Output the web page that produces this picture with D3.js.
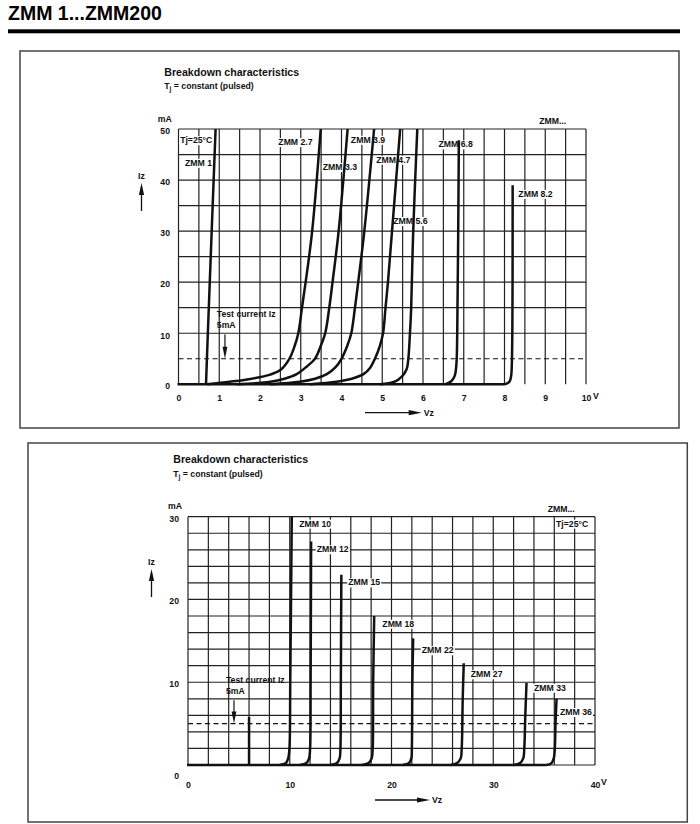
<!DOCTYPE html>
<html>
<head>
<meta charset="utf-8">
<script src="https://cdn.jsdelivr.net/npm/d3@7"></script>
<style>
  html, body { margin: 0; padding: 0; background: #fff; }
  svg { display: block; font-family: "Liberation Sans", Arial, sans-serif; font-weight: bold; }
</style>
</head>
<body>
<svg id="chart" width="700" height="824"></svg>
<script>
// ---------- DATA ----------
const pageTitle = "ZMM 1...ZMM200";
const chartTitle = "Breakdown characteristics";
const testCurrent = 5; // mA

// top chart (0..10 V, 0..50 mA)
const topVoltTicks = [0, 1, 2, 3, 4, 5, 6, 7, 8, 9, 10];
const topCurrentTicks = [0, 10, 20, 30, 40, 50];
const topNames = ["ZMM 1", "ZMM 2.7", "ZMM 3.3", "ZMM 3.9", "ZMM 4.7", "ZMM 5.6", "ZMM 6.8", "ZMM 8.2"];
const zmm1   = [[0.675, 0], [0.72, 10], [0.91, 50]];
const zmm2_7 = [[0.70, 0], [1.26, 0.5], [1.80, 1.1], [2.25, 1.9], [2.50, 2.8], [2.72, 5], [2.85, 7.5], [2.94, 10], [3.03, 15], [3.12, 20], [3.28, 30], [3.49, 50]];
const zmm3_3 = [[1.43, 0], [2.25, 0.5], [2.60, 1.1], [2.90, 2], [3.15, 3.5], [3.35, 5], [3.49, 7.5], [3.60, 10], [3.70, 15], [3.78, 20], [3.93, 30], [4.15, 50]];
const zmm3_9 = [[2.25, 0], [2.98, 0.5], [3.35, 1.1], [3.64, 2], [3.85, 3.3], [4.00, 5], [4.14, 7.5], [4.24, 10], [4.33, 15], [4.41, 20], [4.56, 30], [4.80, 50]];
const zmm4_7 = [[3.23, 0], [3.88, 0.5], [4.25, 1.1], [4.54, 2], [4.70, 3.2], [4.82, 5], [4.94, 7.5], [5.02, 10], [5.08, 15], [5.14, 20], [5.24, 30], [5.44, 50]];
const zmm5_6 = [[4.94, 0], [5.30, 0.5], [5.48, 1.5], [5.60, 3], [5.64, 5], [5.68, 10], [5.71, 15], [5.76, 30], [5.86, 50]];
const zmm6_8 = [[6.54, 0], [6.70, 0.65], [6.78, 1.7], [6.82, 4], [6.84, 10], [6.88, 47.8]];
const zmm8_2 = [[8.01, 0], [8.12, 0.5], [8.16, 1.5], [8.18, 4], [8.20, 39]];
const topCurves = [zmm1, zmm2_7, zmm3_3, zmm3_9, zmm4_7, zmm5_6, zmm6_8, zmm8_2];

// bottom chart (0..40 V, 0..30 mA)
const botVoltTicks = [0, 10, 20, 30, 40];
const botCurrentTicks = [0, 10, 20, 30];
const botNames = ["", "ZMM 10", "ZMM 12", "ZMM 15", "ZMM 18", "ZMM 22", "ZMM 27", "ZMM 33", "ZMM 36"];
const zmm6b  = [[6.0, 0], [6.0, 5.8]];
const zmm10  = [[9.0, 0], [9.6, 0.2], [9.85, 0.8], [9.97, 2], [10.05, 10], [10.2, 30]];
const zmm12  = [[11.0, 0], [11.6, 0.2], [11.9, 0.8], [12.0, 2], [12.05, 10], [12.1, 27]];
const zmm15  = [[14.0, 0], [14.6, 0.2], [14.9, 0.8], [14.98, 2], [15.02, 10], [15.07, 23]];
const zmm18  = [[17.1, 0], [17.7, 0.2], [18.05, 0.8], [18.15, 2], [18.2, 10], [18.3, 18]];
const zmm22  = [[21.1, 0], [21.7, 0.2], [21.95, 0.8], [22.0, 2], [22.05, 10], [22.13, 15.3]];
const zmm27  = [[25.8, 0], [26.4, 0.2], [26.8, 0.8], [26.9, 2], [27.0, 8], [27.1, 12.3]];
const zmm33  = [[32.0, 0], [32.6, 0.2], [32.95, 0.8], [33.05, 2], [33.15, 6], [33.27, 9.9]];
const zmm36  = [[35.2, 0], [35.7, 0.2], [35.95, 0.8], [36.05, 2], [36.12, 5], [36.22, 8]];
const botCurves = [zmm6b, zmm10, zmm12, zmm15, zmm18, zmm22, zmm27, zmm33, zmm36];

// ---------- LAYOUT (positions, in data units of each chart) ----------
const topLabelPos = {
  "Tj=25°C": [0.04, 47.2], "ZMM 1": [0.16, 42.8], "ZMM 2.7": [2.45, 46.85], "ZMM 3.9": [4.23, 47.3],
  "ZMM 3.3": [3.54, 41.97], "ZMM 4.7": [4.85, 43.4], "ZMM 5.6": [5.27, 31.4], "ZMM 6.8": [6.38, 46.4],
  "ZMM 8.2": [8.34, 36.7], "ZMM...": [8.85, 51.0]
};
const botLabelPos = {
  "ZMM 10": [10.94, 28.8], "ZMM 12": [12.65, 25.7], "ZMM 15": [15.75, 21.7], "ZMM 18": [19.1, 16.7],
  "ZMM 22": [22.97, 13.5], "ZMM 27": [27.78, 10.6], "ZMM 33": [34.0, 8.97], "ZMM 36": [36.56, 6.04],
  "ZMM...": [35.35, 30.6], "Tj=25°C": [36.17, 28.8]
};

const svg = d3.select("#chart");
const INK = "#111";

// page header
svg.append("text").attr("x", 8).attr("y", 19.5).attr("font-size", 19.5).attr("fill", "#000").text(pageTitle);
svg.append("rect").attr("x", 8).attr("y", 29.3).attr("width", 672).attr("height", 4).attr("fill", "#000");

function arrowHead(g, x, y, dir, len, half) {
  let p;
  if (dir === "down") p = [[x - half, y - len], [x + half, y - len], [x, y]];
  else if (dir === "up") p = [[x - half, y + len], [x + half, y + len], [x, y]];
  else p = [[x - len, y - half], [x - len, y + half], [x, y]];
  g.append("path").attr("d", d3.line()(p) + "Z").attr("fill", INK);
}

function labelWithBg(g, x, y, txt, size) {
  const t = g.append("text").attr("x", x).attr("y", y).attr("font-size", size).attr("fill", INK).text(txt);
  const bb = t.node().getBBox();
  g.insert("rect", "text").attr("x", bb.x - 1).attr("y", bb.y + 1).attr("width", bb.width + 2).attr("height", bb.height - 1).attr("fill", "#fff");
  return t;
}

function tjLine(g, x, y, size) {
  const t = g.append("text").attr("x", x).attr("y", y).attr("font-size", size).attr("fill", INK);
  t.append("tspan").text("T");
  t.append("tspan").attr("font-size", size * 0.75).attr("dy", 2).text("j");
  t.append("tspan").attr("dy", -2).text(" = constant (pulsed)");
}

function drawChart(cfg) {
  const g = svg.append("g");
  const { x, y } = cfg;
  g.append("rect").attr("x", cfg.box[0]).attr("y", cfg.box[1]).attr("width", cfg.box[2]).attr("height", cfg.box[3])
    .attr("fill", "none").attr("stroke", "#444").attr("stroke-width", 1.5);
  g.append("text").attr("x", cfg.titlePos[0]).attr("y", cfg.titlePos[1]).attr("font-size", 10.6).attr("fill", INK).text(chartTitle);
  tjLine(g, cfg.titlePos[0], cfg.titlePos[1] + 13.5, 8.7);

  const [x0, x1] = x.domain(), [y0, y1] = y.domain();
  const grid = g.append("g").attr("stroke", "#222").attr("stroke-width", 1.2);
  grid.selectAll("line.v").data(cfg.gridV).join("line")
    .attr("x1", d => x(d)).attr("x2", d => x(d)).attr("y1", y(y0)).attr("y2", y(y1));
  grid.selectAll("line.h").data(cfg.gridH).join("line")
    .attr("x1", x(x0)).attr("x2", x(x1)).attr("y1", d => y(d)).attr("y2", d => y(d));
  g.append("line").attr("x1", x(x0)).attr("x2", x(x1)).attr("y1", y(testCurrent)).attr("y2", y(testCurrent))
    .attr("stroke", INK).attr("stroke-width", 1.2).attr("stroke-dasharray", "5,3.5");
  const lastKnee = d3.max(cfg.curves, c => c[0][0]);
  g.append("line").attr("x1", x(x0) - 1).attr("x2", x(lastKnee)).attr("y1", y(0)).attr("y2", y(0))
    .attr("stroke", INK).attr("stroke-width", 2.6);

  const xa = d3.axisBottom(x).tickValues(cfg.xTicks).tickSize(0).tickPadding(cfg.xPad).tickFormat(d3.format("d"));
  const xg = g.append("g").attr("transform", `translate(0,${y(0)})`).call(xa);
  xg.select(".domain").remove();
  xg.selectAll("text").attr("font-size", 8.7).attr("font-family", "Liberation Sans, Arial").attr("font-weight", "bold").attr("fill", INK);
  const ya = d3.axisLeft(y).tickValues(cfg.yTicks).tickSize(0).tickPadding(cfg.yPad).tickFormat(d3.format("d"));
  const yg = g.append("g").attr("transform", `translate(${x(x0)},0)`).call(ya);
  yg.select(".domain").remove();
  yg.selectAll("text").attr("font-size", 8.7).attr("font-family", "Liberation Sans, Arial").attr("font-weight", "bold").attr("fill", INK)
    .attr("dy", d => (d === 0 ? cfg.zeroDy : cfg.tickDy));

  g.append("text").attr("x", x(x0) + cfg.mAOff[0]).attr("y", y(y1) + cfg.mAOff[1]).attr("font-size", 8.7).attr("fill", INK).text("mA");
  g.append("text").attr("x", x(x1) + cfg.vOff[0]).attr("y", y(0) + cfg.vOff[1]).attr("font-size", 8.7).attr("fill", INK).text("V");

  const iz = cfg.izPos;
  g.append("text").attr("x", iz[0]).attr("y", iz[1]).attr("font-size", 8.7).attr("fill", INK).text("Iz");
  g.append("line").attr("x1", iz[0] + 3.5).attr("x2", iz[0] + 3.5).attr("y1", iz[1] + 8).attr("y2", iz[1] + 32).attr("stroke", INK).attr("stroke-width", 1.3);
  arrowHead(g, iz[0] + 3.5, iz[1] + 4, "up", 12, 2.6);

  const vz = cfg.vzPos;
  g.append("line").attr("x1", vz[0]).attr("x2", vz[1] - 6).attr("y1", vz[2]).attr("y2", vz[2]).attr("stroke", INK).attr("stroke-width", 1.3);
  arrowHead(g, vz[1], vz[2], "right", 13, 2.6);
  g.append("text").attr("x", vz[1] + 2).attr("y", vz[2] + 3.2).attr("font-size", 8.7).attr("fill", INK).text("Vz");

  const tc = cfg.testPos;
  g.append("text").attr("x", x(tc[0])).attr("y", y(tc[1])).attr("font-size", 8.7).attr("fill", INK).text("Test current Iz");
  g.append("text").attr("x", x(tc[0])).attr("y", y(tc[1]) + 11).attr("font-size", 8.7).attr("fill", INK).text("5mA");
  g.append("line").attr("x1", x(tc[2])).attr("x2", x(tc[2])).attr("y1", y(tc[1]) + 17).attr("y2", y(testCurrent) - 6)
    .attr("stroke", INK).attr("stroke-width", 1.2);
  arrowHead(g, x(tc[2]), y(testCurrent), "down", 12, 2.4);

  const lg = g.append("g");
  Object.entries(cfg.labelPos).forEach(([name, p]) => {
    const lab = lg.append("g");
    labelWithBg(lab, x(p[0]), y(p[1]), name, 8.7);
  });

  const line = d3.line().x(d => x(d[0])).y(d => y(d[1])).curve(d3.curveCatmullRom.alpha(0.5));
  g.append("g").selectAll("path").data(cfg.curves).join("path")
    .attr("d", d => line(d))
    .attr("fill", "none").attr("stroke", INK).attr("stroke-width", 2.5).attr("stroke-linecap", "butt").attr("stroke-linejoin", "round");
}

// ---------- TOP CHART ----------
drawChart({
  x: d3.scaleLinear().domain([0, 10]).range([178.5, 586]),
  y: d3.scaleLinear().domain([0, 50]).range([384.3, 129]),
  box: [20, 51, 659, 377],
  titlePos: [164.3, 75.7],
  gridV: d3.range(0, 10.01, 0.5),
  gridH: [10, 15, 20, 25, 30, 35, 40, 45, 50],
  xTicks: topVoltTicks, yTicks: topCurrentTicks,
  xPad: 10.6, yPad: 8.5, zeroDy: "0.45em", tickDy: "0.55em",
  mAOff: [-20.8, -7], vOff: [7, 14.5],
  izPos: [138, 179],
  vzPos: [365, 421.7, 412.7],
  testPos: [0.94, 13.1, 1.14],
  labelPos: topLabelPos,
  curves: topCurves
});

// ---------- BOTTOM CHART ----------
drawChart({
  x: d3.scaleLinear().domain([0, 40]).range([188, 595]),
  y: d3.scaleLinear().domain([0, 30]).range([765, 516.7]),
  box: [28, 443, 659.3, 379],
  titlePos: [173.3, 463.3],
  gridV: d3.range(0, 40.01, 2),
  gridH: d3.range(0, 30.01, 2),
  xTicks: botVoltTicks, yTicks: botCurrentTicks,
  xPad: 16.8, yPad: 9, zeroDy: "1.5em", tickDy: "0.5em",
  mAOff: [-20, -7.5], vOff: [6, 20],
  izPos: [148, 565],
  vzPos: [375, 430, 800],
  testPos: [3.73, 9.87, 4.52],
  labelPos: botLabelPos,
  curves: botCurves
});
</script>
</body>
</html>
